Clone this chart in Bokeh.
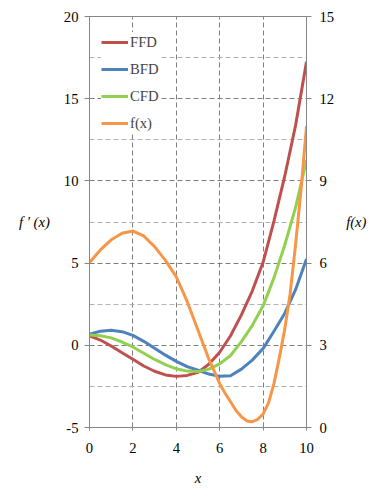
from bokeh.plotting import figure
from bokeh.models import (Range1d, LinearAxis, FixedTicker, Legend, LegendItem)
from bokeh.embed import file_html
from bokeh.resources import INLINE

# ---- data -------------------------------------------------------------
x = [0, 0.5, 1, 1.5, 2, 2.5, 3, 3.5, 4, 4.5, 5, 5.5, 6, 6.5, 7, 7.5, 8, 8.5, 9, 9.5, 10]
ffd = [0.57, 0.32, -0.04, -0.45, -0.85, -1.26, -1.58, -1.80, -1.89, -1.83, -1.65,
       -1.15, -0.42, 0.58, 1.85, 3.30, 5.05, 7.55, 10.3, 13.4, 17.25]
bfd = [0.68, 0.85, 0.92, 0.83, 0.60, 0.24, -0.18, -0.60, -0.98, -1.30, -1.52,
       -1.75, -1.89, -1.85, -1.45, -0.90, -0.20, 0.85, 1.95, 3.40, 5.25]
cfd = [0.62, 0.58, 0.45, 0.20, -0.10, -0.48, -0.86, -1.18, -1.43, -1.57, -1.60,
       -1.45, -1.13, -0.62, 0.22, 1.20, 2.40, 4.10, 6.10, 8.40, 11.25]
x_f = [0, 0.5, 1, 1.5, 2, 2.5, 3, 3.5, 4, 4.5, 5, 5.5, 6, 6.25, 6.5, 6.75, 7, 7.25,
       7.5, 7.75, 8, 8.25, 8.5, 8.75, 9, 9.25, 9.5, 9.75, 10]
fx = [6.02, 6.48, 6.85, 7.09, 7.17, 6.99, 6.60, 6.10, 5.50, 4.60, 3.55, 2.50, 1.60,
      1.25, 0.94, 0.62, 0.39, 0.24, 0.21, 0.30, 0.49, 0.90, 1.60, 2.55, 3.60, 4.90,
      6.70, 8.70, 11.00]

series_names = ["FFD", "BFD", "CFD", "f(x)"]
x_ticks = [0, 2, 4, 6, 8, 10]
left_ticks = [-5, 0, 5, 10, 15, 20]
left_minor = [-2.5, 2.5, 7.5, 12.5, 17.5]
right_ticks = [0, 3, 6, 9, 12, 15]

# ---- styling ----------------------------------------------------------
FONT = "Liberation Serif"
FS = "14.67px"
AX = "#868686"
colors = ["#C0504D", "#4F81BD", "#92D050", "#F79646"]

p = figure(width=378, height=493, output_backend="svg", toolbar_location=None,
           x_range=Range1d(0, 10), y_range=Range1d(-5, 20),
           min_border_left=89, min_border_right=72, min_border_top=16,
           min_border_bottom=66)
p.extra_y_ranges = {"right": Range1d(0, 15)}
p.background_fill_color = "white"
p.border_fill_color = "white"
p.outline_line_color = AX
p.outline_line_width = 1

# axes
p.xaxis.ticker = FixedTicker(ticks=x_ticks)
p.yaxis.ticker = FixedTicker(ticks=left_ticks, minor_ticks=left_minor)
p.yaxis.major_label_overrides = {-5: "-5"}
right = LinearAxis(y_range_name="right", ticker=FixedTicker(ticks=right_ticks))
p.add_layout(right, "right")

p.yaxis.axis_label = "f \u2032 (x)"
right.axis_label = "f(x)"
p.xaxis.axis_label = "x"

for ax in [p.xaxis[0], p.yaxis[0], right]:
    ax.axis_line_color = AX
    ax.major_tick_line_color = AX
    ax.minor_tick_line_color = None
    ax.major_label_text_font = FONT
    ax.major_label_text_font_size = FS
    ax.major_label_text_color = "black"
    ax.axis_label_text_font = FONT
    ax.axis_label_text_font_size = FS
    ax.axis_label_text_font_style = "italic"
    ax.axis_label_text_color = "black"

p.yaxis.major_tick_in = 0
p.yaxis.major_tick_out = 5
p.yaxis.major_label_standoff = 6
p.yaxis.axis_label_orientation = "horizontal"
p.yaxis.axis_label_standoff = 11
right.major_tick_in = 0
right.major_tick_out = 5
right.major_label_standoff = 8
right.axis_label_orientation = "horizontal"
right.axis_label_standoff = 9
p.xaxis.major_tick_in = 5
p.xaxis.major_tick_out = 3
p.xaxis.major_label_standoff = 12
p.xaxis.axis_label_standoff = 14

# grids
p.xgrid.grid_line_color = "#7F7F7F"
p.xgrid.grid_line_dash = "5 3"
p.ygrid.grid_line_color = "#7F7F7F"
p.ygrid.grid_line_dash = "5 3"
p.ygrid.minor_grid_line_color = "#B0B0B0"
p.ygrid.minor_grid_line_dash = "5 3"

# lines
rs = []
for ys, c in zip([ffd, bfd, cfd], colors[:3]):
    rs.append(p.line(x, ys, line_color=c, line_width=3, line_join="round"))
rs.append(p.line(x_f, fx, line_color=colors[3], line_width=3, line_join="round",
                 y_range_name="right"))

legend = Legend(items=[LegendItem(label=n, renderers=[r]) for n, r in zip(series_names, rs)],
                location=(12, 294), padding=5, spacing=7, margin=0,
                glyph_width=27, glyph_height=20, label_height=20, label_standoff=2,
                label_text_font=FONT, label_text_font_size=FS,
                background_fill_color="white", background_fill_alpha=1.0,
                border_line_color=None)
p.add_layout(legend)

open("out.html", "w").write(file_html(p, INLINE))
